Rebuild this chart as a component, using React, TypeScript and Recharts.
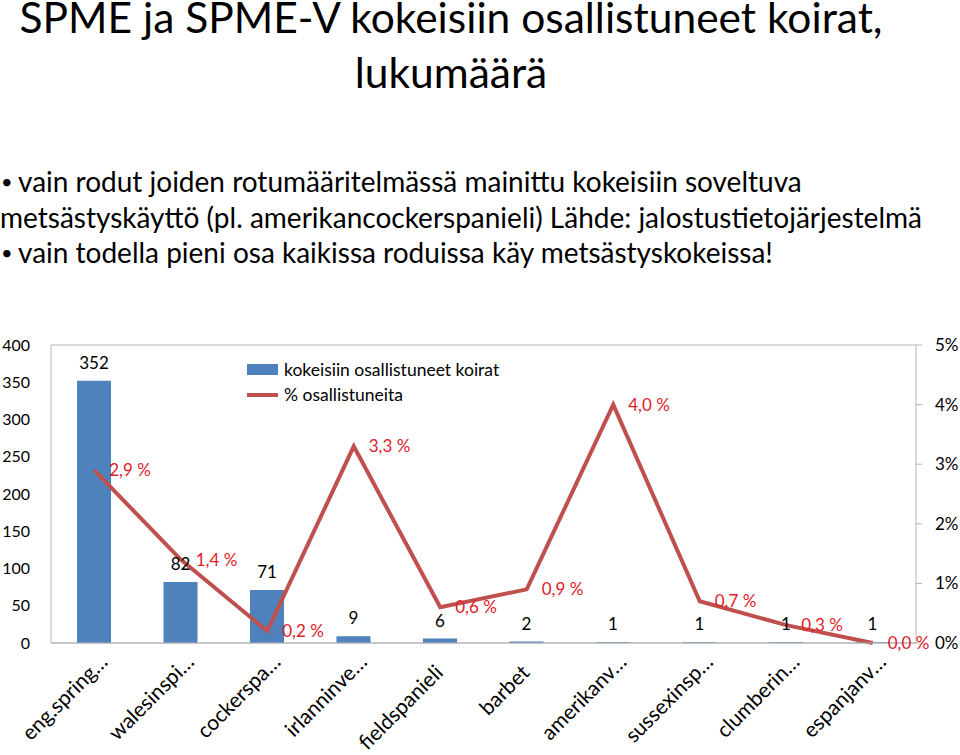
import {
  Bar,
  CartesianGrid,
  ComposedChart,
  LabelList,
  Legend,
  Line,
  XAxis,
  YAxis,
} from "recharts";

const FONT = "Lato, 'Open Sans', sans-serif";

const breeds = [
  "eng.spring…",
  "walesinspi…",
  "cockerspa…",
  "irlanninve…",
  "fieldspanieli",
  "barbet",
  "amerikanv…",
  "sussexinsp…",
  "clumberin…",
  "espanjanv…",
];
const dogCounts = [352, 82, 71, 9, 6, 2, 1, 1, 1, 1];
const sharePct = [2.9, 1.4, 0.2, 3.3, 0.6, 0.9, 4.0, 0.7, 0.3, 0.0];

const countTicks = [0, 50, 100, 150, 200, 250, 300, 350, 400];
const pctTicks = [0, 1, 2, 3, 4, 5];

const titleLines = ["SPME ja SPME-V kokeisiin osallistuneet koirat,", "lukumäärä"];
const bulletLines = [
  { bullet: true, text: "vain rodut joiden rotumääritelmässä mainittu kokeisiin soveltuva" },
  { bullet: false, text: "metsästyskäyttö (pl. amerikancockerspanieli) Lähde: jalostustietojärjestelmä" },
  { bullet: true, text: "vain todella pieni osa kaikissa roduissa käy metsästyskokeissa!" },
];

const chartData = breeds.map((breed, i) => ({
  breed,
  dogs: dogCounts[i],
  share: sharePct[i],
}));

const BLUE = "#4F81BD";
const RED = "#C0504D";
const LABEL_RED = "#E0202A";
const GRID = "#B4B4B4";

const fmtShare = (v: number) => `${v.toFixed(1).replace(".", ",")} %`;

function BreedTick({ x, y, payload }: any) {
  const label: string = payload.value;
  const cut = label.endsWith("…");
  return (
    <g transform={`translate(${x + 4},${y + 31})`}>
      <text
        transform="rotate(-45)"
        textAnchor="end"
        dx={cut ? 15 : 0}
        fill="#000"
        fontSize={21}
        fontFamily={FONT}
      >
        {label}
      </text>
    </g>
  );
}

function ShareLabel({ x, y, value }: any) {
  return (
    <text
      x={x + 15}
      y={y}
      dy="0.35em"
      fill={LABEL_RED}
      fontSize={17}
      fontFamily={FONT}
    >
      {fmtShare(value)}
    </text>
  );
}

function SeriesLegend() {
  const row = { display: "flex", alignItems: "center", height: 25 } as const;
  return (
    <div style={{ fontFamily: FONT, fontSize: 17.5, color: "#000", whiteSpace: "nowrap" }}>
      <div style={row}>
        <span style={{ width: 31, height: 11, background: BLUE, marginRight: 6 }} />
        kokeisiin osallistuneet koirat
      </div>
      <div style={row}>
        <span style={{ width: 31, height: 4, background: RED, marginRight: 6 }} />
        % osallistuneita
      </div>
    </div>
  );
}

export default function App() {
  return (
    <div
      style={{
        position: "absolute",
        left: 0,
        top: 0,
        width: 960,
        height: 755,
        background: "#fff",
        overflow: "hidden",
        fontFamily: FONT,
        color: "#000",
      }}
    >
      {titleLines.map((t, i) => (
        <div
          key={t}
          style={{
            position: "absolute",
            left: 0,
            top: i * 55,
            width: 902,
            textAlign: "center",
            fontSize: 42.5,
            lineHeight: "34px",
            whiteSpace: "nowrap",
          }}
        >
          {t}
        </div>
      ))}

      <div style={{ position: "absolute", left: 0, top: 164, fontSize: 28, lineHeight: "35.5px" }}>
        {bulletLines.map((l) => (
          <div key={l.text} style={{ position: "relative", whiteSpace: "nowrap", paddingLeft: l.bullet ? 18 : 0 }}>
            {l.bullet && <span style={{ position: "absolute", left: 1, fontSize: 20 }}>•</span>}
            {l.text}
          </div>
        ))}
      </div>

      <div style={{ position: "absolute", left: 0, top: 330 }}>
        <ComposedChart
          width={960}
          height={425}
          data={chartData}
          margin={{ top: 15, right: 0, bottom: 0, left: 0 }}
          barCategoryGap={0}
          style={{ fontFamily: FONT }}
        >
          <CartesianGrid vertical={false} stroke={GRID} />
          <XAxis
            dataKey="breed"
            height={112}
            interval={0}
            tickLine={false}
            tickSize={0}
            tickMargin={0}
            axisLine={{ stroke: GRID }}
            tick={<BreedTick />}
          />
          <YAxis
            yAxisId="count"
            width={51}
            domain={[0, 400]}
            ticks={countTicks}
            tickLine={false}
            tickSize={0}
            tickMargin={21}
            axisLine={{ stroke: GRID }}
            tick={{ fill: "#000", fontSize: 16, fontFamily: FONT }}
          />
          <YAxis
            yAxisId="pct"
            orientation="right"
            width={44}
            domain={[0, 5]}
            ticks={pctTicks}
            tickFormatter={(v: number) => `${v}%`}
            tickSize={6}
            tickMargin={13}
            tickLine={{ stroke: GRID }}
            axisLine={{ stroke: GRID }}
            tick={{ fill: "#000", fontSize: 17, fontFamily: FONT }}
          />
          <Legend
            layout="horizontal"
            verticalAlign="middle"
            align="center"
            content={<SeriesLegend />}
            wrapperStyle={{ left: 247, top: 27, width: "auto" }}
          />
          <Bar
            yAxisId="count"
            dataKey="dogs"
            name="kokeisiin osallistuneet koirat"
            fill={BLUE}
            barSize={34}
            isAnimationActive={false}
          >
            <LabelList
              dataKey="dogs"
              position="top"
              offset={12}
              fill="#000"
              fontSize={17}
              fontFamily={FONT}
            />
          </Bar>
          <Line
            yAxisId="pct"
            dataKey="share"
            name="% osallistuneita"
            type="linear"
            stroke={RED}
            strokeWidth={4}
            strokeLinejoin="miter"
            dot={false}
            isAnimationActive={false}
          >
            <LabelList dataKey="share" content={<ShareLabel />} />
          </Line>
        </ComposedChart>
      </div>
    </div>
  );
}
